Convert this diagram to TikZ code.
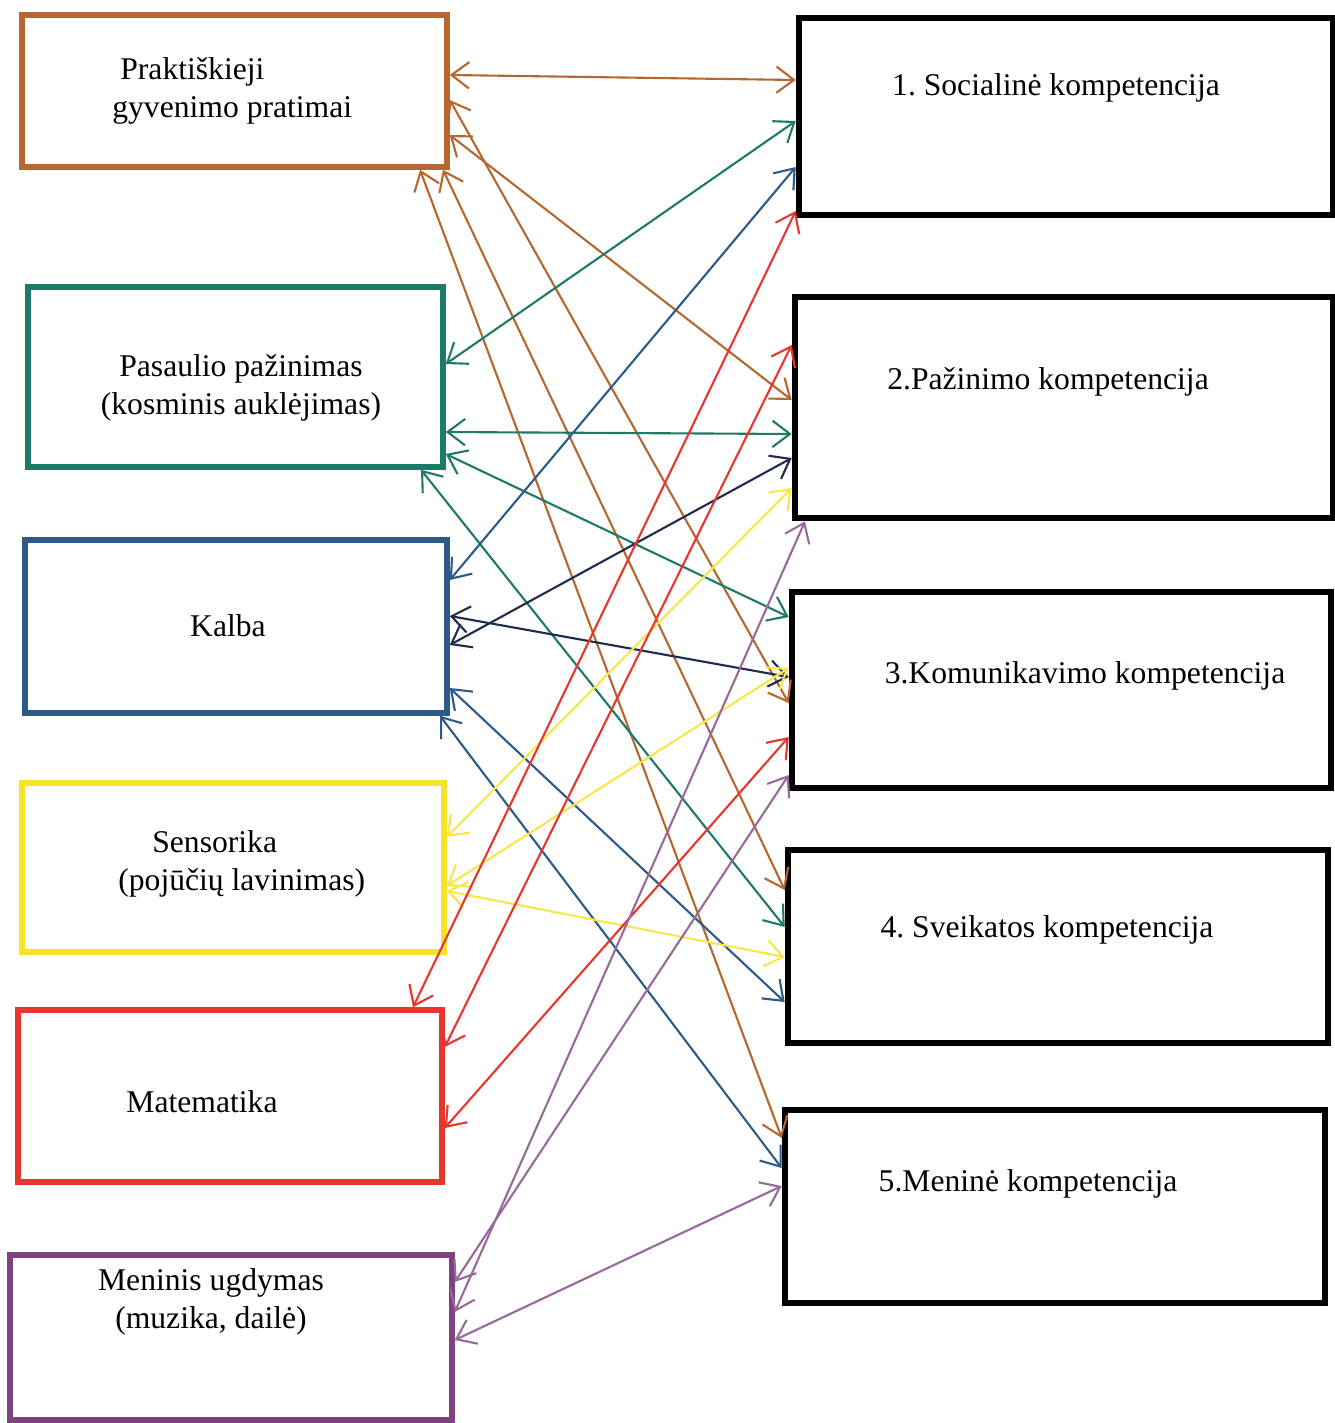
\documentclass[tikz,border=0pt]{standalone}
\usepackage{fontspec}
\setmainfont{Liberation Serif}
\usetikzlibrary{arrows.meta}
\definecolor{rudas}{HTML}{B4672F}
\definecolor{zalia}{HTML}{1D7A66}
\definecolor{melyna}{HTML}{2E5A88}
\definecolor{tamsi}{HTML}{1E2C4E}
\definecolor{geltona}{HTML}{F7E22A}
\definecolor{raudona}{HTML}{E8352E}
\definecolor{violetine}{HTML}{7E4482}
\frenchspacing
\begin{document}
\begin{tikzpicture}[x=0.02cm, y=-0.02cm, font=\fontsize{18}{21.5}\selectfont]
\tikzset{
        dalykas/.style={draw=#1, line width=3.2pt, rectangle},
        kompetencija/.style={draw=black, line width=3.8pt, rectangle, minimum width=10.8cm},
        tekstas/.style={inner sep=0pt},
        rysys/.style={draw=#1, line width=1.2pt,
          {Straight Barb[length=10pt,width=15pt]}-{Straight Barb[length=10pt,width=15pt]}},
    }
  \fill[white] (0,0) rectangle (1335,1423);
  \useasboundingbox (0,0) rectangle (1335,1423);

  \node[dalykas=rudas, minimum width=8.5cm, minimum height=3.04cm] (prak) at (234.5,91) {};
  \node[dalykas=zalia, minimum width=8.3cm, minimum height=3.6cm] (pas) at (235.5,377) {};
  \node[dalykas=melyna, minimum width=8.44cm, minimum height=3.46cm] (kal) at (236,626.5) {};
  \node[dalykas=geltona, minimum width=8.44cm, minimum height=3.38cm] (sens) at (233,867.5) {};
  \node[dalykas=raudona, minimum width=8.48cm, minimum height=3.44cm] (mat) at (230,1096) {};
  \node[dalykas=violetine, minimum width=8.84cm, minimum height=3.3cm] (mug) at (231,1337.5) {};

  \node[tekstas, align=left, anchor=west] (prakt) at (112,91) {\hspace*{0.16cm}Praktiškieji\\gyvenimo pratimai};
  \node[tekstas, align=center] (past) at (241,388) {Pasaulio pažinimas\\(kosminis auklėjimas)};
  \node[tekstas] (kalt) at (228,626) {Kalba};
  \node[tekstas, align=left, anchor=west] (senst) at (118,864) {\hspace*{0.68cm}Sensorika\\(pojūčių lavinimas)};
  \node[tekstas] (matt) at (202,1102) {Matematika};
  \node[tekstas, align=center] (mugt) at (211,1302) {Meninis ugdymas\\(muzika, dailė)};

  \node[kompetencija, minimum width=10.68cm, minimum height=3.94cm] (soc) at (1066,116.5) {};
  \node[kompetencija, minimum width=10.76cm, minimum height=4.42cm] (pazk) at (1064,407.5) {};
  \node[kompetencija, minimum width=10.78cm, minimum height=3.92cm] (komk) at (1061.5,690) {};
  \node[kompetencija, minimum width=10.8cm, minimum height=3.86cm] (sveik) at (1058,946.5) {};
  \node[kompetencija, minimum width=10.8cm, minimum height=3.86cm] (menk) at (1055,1206.5) {};

  \node[tekstas] (soct) at (1056,88) {1. Socialinė kompetencija};
  \node[tekstas] (pazkt) at (1048,382) {2.Pažinimo kompetencija};
  \node[tekstas] (komkt) at (1085,676) {3.Komunikavimo kompetencija};
  \node[tekstas] (sveikt) at (1047,930) {4. Sveikatos kompetencija};
  \node[tekstas] (menkt) at (1028,1184) {5.Meninė kompetencija};

  \draw[rysys=rudas] (prak.east |- 0,75) -- (soc.west |- 0,80);
  \draw[rysys=rudas] (prak.east |- 0,100) -- (komk.west |- 0,703);
  \draw[rysys=rudas] (prak.east |- 0,135) -- (pazk.west |- 0,400);
  \draw[rysys=rudas] (prak.south -| 443,0) -- (sveik.west |- 0,890);
  \draw[rysys=rudas] (prak.south -| 420,0) -- (menk.west |- 0,1138);

  \draw[rysys=zalia] (pas.east |- 0,364) -- (soc.west |- 0,121);
  \draw[rysys=zalia] (pas.east |- 0,432) -- (pazk.west |- 0,434);
  \draw[rysys=zalia] (pas.east |- 0,454) -- (komk.west |- 0,617);
  \draw[rysys=zalia] (pas.south -| 421,0) -- (sveik.west |- 0,927);

  \draw[rysys=melyna] (kal.east |- 0,580) -- (soc.west |- 0,167);
  \draw[rysys=tamsi] (kal.east |- 0,645) -- (pazk.west |- 0,458);
  \draw[rysys=tamsi] (kal.east |- 0,616) -- (komk.west |- 0,677);
  \draw[rysys=melyna] (kal.east |- 0,688) -- (sveik.west |- 0,1002);
  \draw[rysys=melyna] (kal.south -| 440,0) -- (menk.west |- 0,1168);

  \draw[rysys=geltona!85!white] (sens.east |- 0,837) -- (pazk.west |- 0,488);
  \draw[rysys=geltona!85!white] (sens.east |- 0,886) -- (komk.west |- 0,668);
  \draw[rysys=geltona!85!white] (sens.east |- 0,891) -- (sveik.west |- 0,957);

  \draw[rysys=raudona] (mat.north -| 413,0) -- (soc.west |- 0,211);
  \draw[rysys=raudona] (mat.east |- 0,1047) -- (pazk.west |- 0,345);
  \draw[rysys=raudona] (mat.east |- 0,1128) -- (komk.west |- 0,737);

  \draw[rysys=violetine!80!white] (mug.east |- 0,1282) -- (komk.west |- 0,775);
  \draw[rysys=violetine!80!white] (mug.east |- 0,1312) -- (pazk.south -| 805,0);
  \draw[rysys=violetine!80!white] (mug.east |- 0,1340) -- (menk.west |- 0,1186);
\end{tikzpicture}
\end{document}
